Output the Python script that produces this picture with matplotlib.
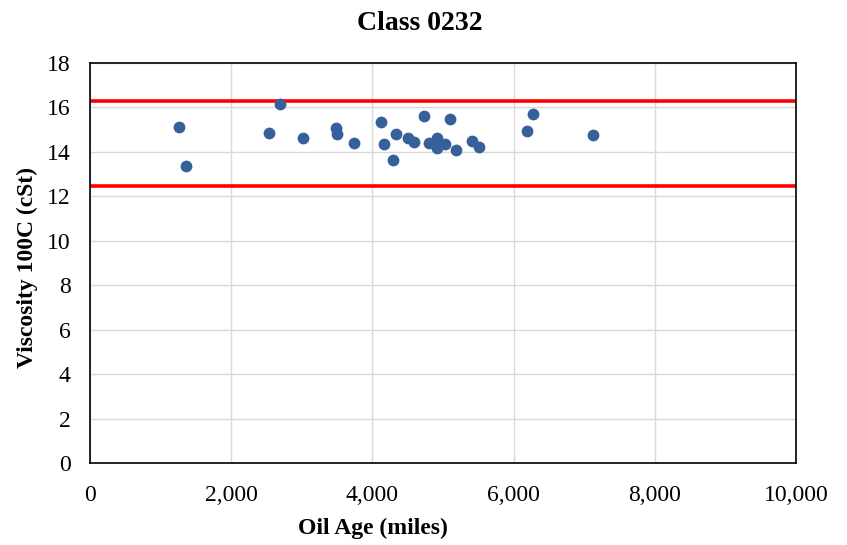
import matplotlib
matplotlib.use("Agg")
import matplotlib.pyplot as plt
from matplotlib.ticker import FuncFormatter, MultipleLocator

plt.rcParams['font.family'] = ['Liberation Serif', 'DejaVu Serif']

oil_age = [1256, 1360, 2535, 2696, 3012, 3480, 3499, 3735, 4117, 4164,
           4292, 4334, 4504, 4589, 4731, 4800, 4910, 4900, 4919, 5028,
           5099, 5184, 5415, 5510, 6185, 6279, 7120]
viscosity = [15.13, 13.35, 14.86, 16.16, 14.61, 15.09, 14.79, 14.41, 15.36, 14.36,
             13.64, 14.81, 14.63, 14.45, 15.63, 14.40, 14.64, 14.40, 14.16, 14.34,
             15.47, 14.10, 14.48, 14.24, 14.96, 15.71, 14.76]
upper_limit = 16.27
lower_limit = 12.48

W, H = 847, 545
fig = plt.figure(figsize=(W / 100, H / 100), dpi=100)
ax = fig.add_axes([90 / W, 1 - 463 / H, 706 / W, 400 / H])

ax.scatter(oil_age, viscosity, s=72, color='#35609A', zorder=3, linewidths=0)
ax.axhline(upper_limit, color='#FF0000', lw=2.6, zorder=2)
ax.axhline(lower_limit, color='#FF0000', lw=2.6, zorder=2)

ax.set_xlim(0, 10000)
ax.set_ylim(0, 18)
ax.xaxis.set_major_locator(MultipleLocator(2000))
ax.yaxis.set_major_locator(MultipleLocator(2))
ax.xaxis.set_major_formatter(FuncFormatter(lambda v, p: f"{int(v):,}"))
ax.grid(True, color='#D9D9D9', lw=1.0, zorder=0)
ax.set_axisbelow(True)
for s in ax.spines.values():
    s.set_color('black')
    s.set_linewidth(1.2)
ax.tick_params(length=0, labelsize=17)
ax.tick_params(axis='x', pad=16)
ax.tick_params(axis='y', pad=14)

fig.text(420 / W, 1 - 23 / H, 'Class 0232', fontsize=20, fontweight='bold',
         ha='center', va='center')
fig.text(373 / W, 1 - 528 / H, 'Oil Age (miles)', fontsize=17, fontweight='bold',
         ha='center', va='center')
fig.text(27 / W, 1 - 267 / H, 'Viscosity 100C (cSt)', fontsize=17, fontweight='bold',
         ha='center', va='center', rotation=90)

fig.savefig('out.png', dpi=100)
